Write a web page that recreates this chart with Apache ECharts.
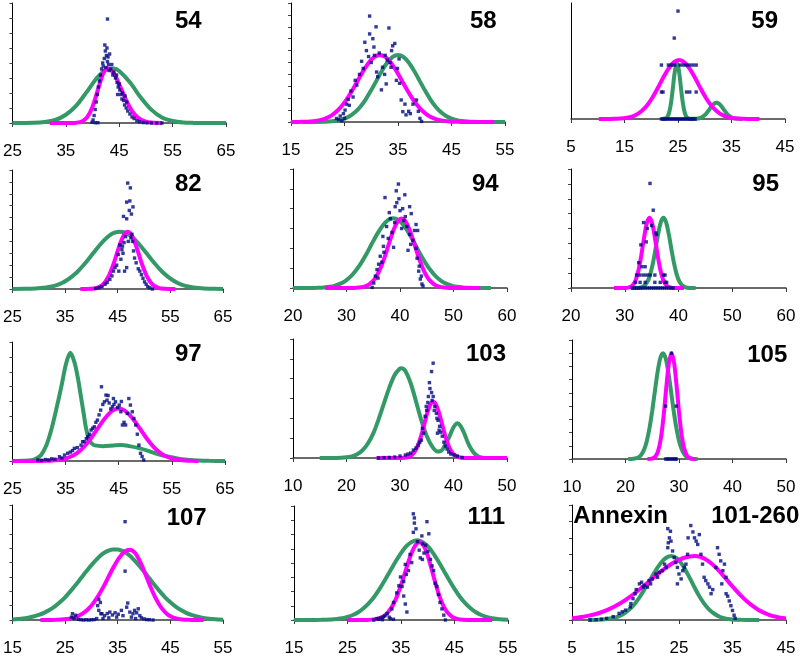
<!DOCTYPE html>
<html><head><meta charset="utf-8">
<script src="https://cdn.jsdelivr.net/npm/echarts@6/dist/echarts.min.js"></script>
<style>html,body{margin:0;padding:0;background:#fff}#c{width:800px;height:657px}</style>
</head><body><div id="c"></div>
<script>
// ---------------- DATA ----------------
const panelTitles = ['54','58','59','82','94','95','97','103','105','107','111','101-260'];
const extraTitle = 'Annexin';
const xMin = [25,15,5,25,20,20,25,10,10,15,15,5];
const xMax = [65,55,45,65,60,60,65,50,50,55,55,45];
const xStep = 10;
const yMax = [8,10,4.3,10,6,8,8,6,9,8,8,7];

const green54 = [[25,0],[29,0.015],[31,0.06],[33,0.2],[35,0.55],[37,1.18],[39,2.11],[41,3.07],[43,3.62],[44,3.64],[45,3.47],[47,2.71],[49,1.72],[51,0.89],[53,0.37],[55,0.13],[57,0.035],[59,0.008],[61,0],[65,0]];
const magenta54 = [[32,0],[34,0],[36,0.003],[37,0.02],[38,0.1],[39,0.39],[40,1.09],[41,2.21],[42,3.31],[42.8,3.65],[44,3.3],[45,2.58],[46,1.76],[47,1.04],[48,0.53],[49,0.24],[50,0.09],[51,0.03],[53,0]];
const dots54 = [[42.8,6.93],[42.2,4.3],[42.4,4.8],[42.6,4.5],[42.8,4.1],[43.0,3.9],[42.5,3.7],[43.2,4.6],[43.4,3.6],[43.6,3.9],[42.0,3.8],[42.7,5.0],[42.3,5.2],[42.9,4.4],[43.1,3.5],[41.9,4.0],[41.7,3.6],[41.5,3.2],[41.3,2.8],[41.1,2.4],[40.9,1.9],[40.7,1.4],[40.5,0.9],[40.3,0.5],[40.1,0.2],[39.9,0.05],[44.0,3.4],[44.3,3.0],[44.5,3.2],[44.6,2.7],[44.8,2.4],[45.0,2.6],[45.1,2.2],[45.3,1.9],[45.5,1.6],[45.6,2.0],[45.8,1.5],[46.0,1.2],[46.1,1.8],[46.3,1.0],[46.4,1.4],[46.6,0.8],[47.0,0.6],[47.4,0.4],[47.8,0.3],[48.3,0.15],[48.8,0.08],[49.5,0.03],[50.2,0.01],[51,0],[52,0],[53,0],[44.7,1.9],[43.8,3.2],[41.0,0.02],[40.5,0.02]];

const green58 = [[17,0],[20,0.007],[21,0.017],[22,0.04],[23,0.08],[24,0.15],[25,0.29],[26,0.51],[27,0.84],[28,1.31],[29,1.93],[30,2.68],[31,3.5],[32,4.31],[33,5.0],[34,5.47],[35,5.63],[36,5.47],[37,5.0],[38,4.31],[39,3.5],[40,2.68],[41,1.93],[42,1.31],[43,0.84],[44,0.51],[45,0.29],[46,0.15],[47,0.08],[48,0.04],[49,0.017],[50,0.007],[55,0]];
const magenta58 = [[15,0],[15.6,0.004],[16.6,0.01],[17.6,0.02],[18.6,0.047],[19.6,0.095],[20.6,0.18],[21.6,0.33],[22.6,0.56],[23.6,0.92],[24.6,1.41],[25.6,2.03],[26.6,2.77],[27.6,3.58],[28.6,4.36],[29.6,5.03],[30.6,5.47],[31.6,5.63],[32.6,5.47],[33.6,5.03],[34.6,4.36],[35.6,3.58],[36.6,2.77],[37.6,2.03],[38.6,1.41],[39.6,0.92],[40.6,0.56],[41.6,0.33],[42.6,0.18],[43.6,0.095],[44.6,0.047],[45.6,0.02],[46.6,0.01],[47.6,0.004],[53,0]];
const dots58 = [[29.7,8.9],[30.9,8.0],[33.3,7.9],[29.7,7.4],[30.3,7.0],[28.8,6.7],[34.4,6.6],[34.0,6.4],[29.1,6.0],[33.8,6.0],[30.5,6.3],[31.5,5.8],[32.6,5.6],[28.2,5.1],[29.5,5.5],[32.1,4.6],[33.0,5.2],[31.2,3.8],[31.9,2.7],[32.5,4.0],[33.5,5.0],[30.0,5.0],[28.5,4.5],[27.8,4.0],[27.3,3.1],[27.0,3.5],[26.6,2.1],[26.2,2.6],[25.7,1.9],[25.9,1.4],[25.1,1.0],[25.4,1.5],[24.8,0.7],[24.2,0.5],[23.9,0.2],[23.5,0.3],[24.5,0.1],[25.0,0.3],[34.7,3.5],[34.9,4.5],[35.2,5.3],[35.3,3.25],[35.6,1.85],[35.9,0.87],[36.3,1.5],[36.5,0.6],[37.0,0.9],[37.3,0.7],[37.8,1.5],[38.45,1.85],[38.8,0.9],[39.1,0.3],[39.4,0.05],[31.0,4.2],[32.8,3.2],[33.7,4.6],[30.6,5.6]];

const green59 = [[22,0],[22.8,0.035],[23.05,0.09],[23.3,0.21],[23.55,0.42],[23.8,0.74],[24.05,1.16],[24.3,1.6],[24.55,1.93],[24.8,2.06],[25.05,1.93],[25.3,1.6],[25.55,1.16],[25.8,0.74],[26.05,0.42],[26.3,0.21],[26.55,0.09],[26.8,0.035],[27.3,0.005],[28.2,0.005],[28.7,0.016],[29.2,0.04],[29.7,0.095],[30.2,0.18],[30.7,0.31],[31.2,0.45],[31.7,0.56],[32.2,0.6],[32.7,0.56],[33.2,0.45],[33.7,0.31],[34.2,0.18],[34.7,0.095],[35.2,0.04],[35.7,0.016],[36.2,0.005],[37,0]];
const magenta59 = [[10.2,0],[12.2,0.002],[13.2,0.006],[14.2,0.016],[15.2,0.037],[16.2,0.08],[17.2,0.16],[18.2,0.3],[19.2,0.5],[20.2,0.79],[21.2,1.14],[22.2,1.52],[23.2,1.86],[24.2,2.1],[25.2,2.19],[26.2,2.1],[27.2,1.86],[28.2,1.52],[29.2,1.14],[30.2,0.79],[31.2,0.5],[32.2,0.3],[33.2,0.16],[34.2,0.08],[35.2,0.037],[36.2,0.016],[37.2,0.006],[38.2,0.002],[40.2,0]];
const dots59 = [[25.0,4],[24.3,3],[21.9,2],[23.2,2],[23.8,2],[24.4,2],[25.4,2],[26.0,2],[26.6,2],[27.2,2],[27.8,2],[28.4,2],[21.9,1],[22.2,1],[26.6,1],[27.2,1],[28.4,1],[21.9,0],[22.2,0],[22.5,0],[22.8,0],[23.1,0],[23.4,0],[23.7,0],[24.0,0],[24.3,0],[24.6,0],[24.9,0],[25.2,0],[25.5,0],[25.8,0],[26.1,0],[26.4,0],[26.7,0],[27.0,0],[27.3,0],[27.6,0],[27.9,0],[28.2,0]];

const green82 = [[25,0.003],[27.4,0.012],[29.4,0.042],[30.4,0.077],[31.4,0.13],[32.4,0.21],[33.4,0.33],[34.4,0.51],[35.4,0.76],[36.4,1.08],[37.4,1.47],[38.4,1.95],[39.4,2.48],[40.4,3.04],[41.4,3.59],[42.4,4.08],[43.4,4.48],[44.4,4.73],[45.4,4.82],[46.4,4.73],[47.4,4.48],[48.4,4.08],[49.4,3.59],[50.4,3.04],[51.4,2.48],[52.4,1.95],[53.4,1.47],[54.4,1.08],[55.4,0.76],[56.4,0.51],[57.4,0.33],[58.4,0.21],[59.4,0.13],[60.4,0.077],[61.4,0.042],[63.4,0.012],[65,0.003]];
const magenta82 = [[37.9,0],[38.9,0.003],[39.9,0.019],[40.9,0.08],[41.9,0.28],[42.4,0.48],[42.9,0.79],[43.4,1.2],[43.9,1.74],[44.4,2.37],[44.9,3.07],[45.4,3.74],[45.9,4.3],[46.4,4.68],[46.9,4.82],[47.4,4.68],[47.9,4.3],[48.4,3.74],[48.9,3.07],[49.4,2.37],[49.9,1.74],[50.4,1.2],[50.9,0.79],[51.4,0.48],[51.9,0.28],[52.9,0.08],[53.9,0.019],[54.9,0.003],[55.9,0]];
const dots82 = [[46.9,8.9],[47.4,8.5],[46.7,7.3],[47.3,7.4],[47.9,6.9],[47.6,6.3],[46.1,6.1],[46.7,5.9],[47.2,6.6],[47.7,4.6],[47.0,4.0],[47.5,4.3],[46.5,4.4],[46.2,3.9],[45.8,3.3],[45.4,3.7],[45.1,2.9],[45.6,2.5],[44.8,2.0],[45.2,1.5],[44.5,1.8],[44.2,1.5],[43.9,1.1],[43.5,0.8],[43.0,0.55],[42.6,0.4],[42.0,0.2],[41.4,0.1],[40.8,0.05],[46.7,1.8],[46.3,1.5],[48.2,2.6],[48.5,2.2],[48.9,1.7],[49.2,1.5],[49.5,1.2],[49.8,0.9],[50.1,0.6],[50.4,0.4],[50.7,0.2],[51.1,0.1],[51.6,0],[46.0,3.0],[45.9,3.6],[48.0,3.2],[47.8,4.0]];

const green94 = [[20,0],[22.75,0.002],[23.75,0.006],[24.75,0.014],[25.75,0.03],[26.75,0.06],[27.75,0.11],[28.75,0.21],[29.75,0.35],[30.75,0.57],[31.75,0.88],[32.75,1.27],[33.75,1.73],[34.75,2.24],[35.75,2.73],[36.75,3.14],[37.75,3.42],[38.75,3.52],[39.75,3.42],[40.75,3.14],[41.75,2.73],[42.75,2.24],[43.75,1.73],[44.75,1.27],[45.75,0.88],[46.75,0.57],[47.75,0.35],[48.75,0.21],[49.75,0.11],[50.75,0.06],[51.75,0.03],[52.75,0.014],[53.75,0.006],[54.75,0.002],[57,0]];
const magenta94 = [[26,0],[29.3,0],[31.3,0.005],[32.3,0.02],[33.3,0.07],[34.3,0.2],[35.3,0.47],[35.8,0.69],[36.3,0.97],[36.8,1.31],[37.3,1.7],[37.8,2.12],[38.3,2.54],[38.8,2.92],[39.3,3.23],[39.8,3.43],[40.3,3.5],[40.8,3.43],[41.3,3.23],[41.8,2.92],[42.3,2.54],[42.8,2.12],[43.3,1.7],[43.8,1.31],[44.3,0.97],[44.8,0.69],[45.3,0.47],[46.3,0.2],[47.3,0.07],[48.3,0.02],[49.3,0.005],[51.3,0],[55,0]];
const dots94 = [[39.7,5.24],[37.2,4.56],[40.9,4.7],[39.3,4.9],[39.4,4.3],[39.1,4.1],[40.0,3.9],[41.8,4.1],[42.1,3.75],[38.2,3.5],[40.7,3.4],[43.0,3.2],[43.3,2.9],[37.5,3.1],[41.8,2.7],[42.4,2.4],[41.5,1.9],[43.0,2.0],[38.8,2.05],[36.9,2.1],[36.3,1.6],[36.6,1.3],[35.7,0.93],[35.4,0.6],[35.1,0.25],[34.8,0.03],[43.5,0.85],[43.8,0.45],[44.1,0.2],[38.5,2.8],[39.0,3.3],[40.3,3.0],[41.0,3.6],[37.8,2.5],[37.0,1.8],[36.0,1.2],[42.7,2.9],[43.2,1.5],[43.6,1.1],[44.3,0.1],[38.0,3.8],[39.8,4.5],[40.5,4.0],[41.3,3.1],[42.0,2.2],[36.8,2.6],[35.9,0.5],[44.0,0.6]];

const green95 = [[31.2,0],[32.2,0.006],[32.7,0.02],[33.2,0.063],[33.7,0.17],[34.2,0.41],[34.7,0.87],[35.2,1.6],[35.7,2.57],[36.2,3.6],[36.7,4.41],[37.2,4.72],[37.7,4.41],[38.2,3.6],[38.7,2.57],[39.2,1.6],[39.7,0.87],[40.2,0.41],[40.7,0.17],[41.2,0.063],[41.7,0.02],[42.2,0.006],[43.2,0]];
const magenta95 = [[28,0],[29.1,0],[30.1,0.006],[30.6,0.024],[31.1,0.082],[31.6,0.24],[32.1,0.6],[32.6,1.26],[33.1,2.24],[33.6,3.39],[34.1,4.35],[34.6,4.72],[35.1,4.35],[35.6,3.39],[36.1,2.24],[36.6,1.26],[37.1,0.6],[37.6,0.24],[38.1,0.082],[38.6,0.024],[39.1,0.006],[40.1,0],[41,0]];
const dots95 = [[34.7,7.03],[35.3,5.23],[33.5,4.4],[34.2,4.0],[35.8,3.7],[34.0,3.1],[33.0,2.9],[35.0,4.2],[35.9,3.6],[32.6,1.7],[33.2,1.43],[33.8,1.43],[32.2,0.87],[32.85,0.87],[33.5,0.87],[34.1,0.87],[34.7,0.87],[35.6,0.87],[37.2,0.87],[37.5,0.87],[32.0,0.38],[32.85,0.38],[33.8,0.38],[35.6,0.38],[36.6,0.38],[37.5,0.38],[37.8,0.38],[31.4,0],[31.8,0],[32.2,0],[32.6,0],[33.0,0],[33.4,0],[33.8,0],[34.2,0],[34.6,0],[35.0,0],[35.4,0],[35.8,0],[36.2,0],[36.6,0],[37.0,0],[37.4,0],[37.8,0],[38.2,0],[38.6,0],[39.0,0]];

const green97 = [[25,0],[27,0.01],[28.6,0.05],[29.5,0.17],[30.4,0.4],[31.4,1.07],[32.3,2.08],[33.2,3.4],[34.2,5.0],[35.1,6.55],[35.9,7.27],[36.7,6.6],[37.3,5.6],[37.9,4.3],[38.4,3.2],[38.8,2.3],[39.45,1.4],[40.0,1.15],[40.5,1.05],[42,1.0],[44,1.05],[45.5,1.08],[47,1.0],[49,0.85],[50.4,0.7],[52,0.5],[54,0.32],[56,0.17],[58,0.08],[60,0.03],[62,0.01],[65,0]];
const magenta97 = [[25,0],[30,0.004],[31,0.009],[32,0.02],[33,0.044],[34,0.088],[35,0.17],[36,0.3],[37,0.5],[38,0.79],[39,1.18],[40,1.65],[41,2.17],[42,2.68],[43,3.12],[44,3.42],[45,3.53],[46,3.42],[47,3.12],[48,2.68],[49,2.17],[50,1.65],[51,1.18],[52,0.79],[53,0.5],[54,0.3],[55,0.17],[56,0.088],[57,0.044],[58,0.02],[59,0.009],[60,0.004]];
const dots97 = [[29.8,0.07],[30.5,0.05],[31.2,0.1],[31.8,0.07],[32.4,0.15],[33.0,0.12],[33.85,0.29],[34.3,0.2],[34.8,0.4],[35.4,0.52],[35.9,0.6],[36.3,0.7],[36.65,0.85],[37.2,0.9],[37.9,1.07],[38.2,1.3],[38.5,1.3],[38.9,1.5],[39.15,1.63],[39.5,1.8],[39.8,2.08],[40.1,2.2],[40.4,2.3],[40.7,2.6],[41.0,2.75],[41.3,3.1],[41.6,3.42],[41.75,4.99],[42.0,3.8],[42.3,3.98],[42.6,4.43],[42.8,4.09],[43.2,3.9],[43.5,3.5],[43.8,3.65],[44.1,3.8],[44.4,3.98],[44.8,3.6],[45.1,3.76],[45.4,3.31],[45.7,2.42],[46.0,2.6],[46.3,2.42],[46.6,3.2],[46.9,4.2],[47.2,3.76],[47.55,3.31],[47.85,2.86],[48.2,2.42],[48.5,1.8],[48.8,1.07],[49.1,0.52],[49.4,0.3],[49.7,0.07],[43.0,4.4],[44.0,4.2],[45.5,4.0]];

const green103 = [[15,0],[18,0.004],[20,0.035],[21,0.085],[22,0.19],[23,0.39],[24,0.73],[25,1.24],[26,1.95],[27,2.75],[28,3.55],[29,4.19],[30,4.51],[30.3,4.53],[31,4.39],[32,3.77],[33,2.85],[34,1.89],[35,1.11],[36,0.59],[37,0.33],[37.5,0.34],[38,0.45],[38.5,0.7],[39,0.95],[39.5,1.25],[40,1.55],[40.7,1.75],[41.3,1.62],[42,1.25],[42.5,0.9],[43,0.6],[43.5,0.37],[44,0.2],[44.5,0.1],[45,0.04],[46,0.005],[47,0]];
const magenta103 = [[25.6,0],[29.2,0],[30.2,0.004],[31.2,0.029],[31.7,0.068],[32.2,0.15],[32.7,0.3],[33.2,0.54],[33.7,0.9],[34.2,1.36],[34.7,1.88],[35.2,2.36],[35.7,2.71],[36.2,2.84],[36.7,2.71],[37.2,2.36],[37.7,1.88],[38.2,1.36],[38.7,0.9],[39.2,0.54],[39.7,0.3],[40.2,0.15],[40.7,0.068],[41.2,0.029],[42.2,0.004],[43.2,0],[50,0]];
const dots103 = [[36.2,4.78],[35.5,3.8],[35.9,3.3],[35.9,4.36],[36.2,3.1],[36.5,2.6],[36.8,2.25],[37.1,1.9],[37.4,1.6],[37.0,1.25],[37.9,1.1],[38.5,0.6],[39.1,0.3],[40.1,0.15],[40.7,0.1],[41.6,0.02],[35.0,2.4],[34.7,2.1],[35.3,3.1],[34.4,1.25],[34.0,0.9],[33.4,0.65],[32.5,0.4],[33.0,0.5],[35.6,3.5],[36.0,2.9],[36.4,2.4],[36.9,2.0],[37.3,1.4],[37.6,1.3],[38.2,0.8],[38.8,0.45],[39.5,0.2],[34.2,1.5],[34.9,2.6],[32.0,0.25],[31.0,0.15],[30.0,0.1],[29.0,0.05],[28.0,0.03],[27.0,0.02],[26.0,0],[31.5,0.2],[33.7,0.8],[35.2,2.8]];

const green105 = [[20.5,0],[21.5,0.02],[22,0.06],[22.5,0.15],[23,0.35],[23.5,0.73],[24,1.38],[24.5,2.37],[25,3.66],[25.5,5.15],[26,6.58],[26.5,7.62],[27,8],[27.5,7.62],[28,6.58],[28.5,5.15],[29,3.66],[29.5,2.37],[30,1.38],[30.5,0.73],[31,0.35],[31.5,0.15],[32,0.06],[32.5,0.02],[33.5,0]];
const magenta105 = [[24.1,0],[24.6,0.01],[25.1,0.05],[25.6,0.19],[26.1,0.61],[26.6,1.53],[27.1,3.16],[27.6,5.3],[28.1,7.22],[28.6,8],[29.1,7.22],[29.6,5.3],[30.1,3.16],[30.6,1.53],[31.1,0.61],[31.6,0.19],[32.1,0.05],[32.6,0.01],[33.1,0]];
const dots105 = [[28.6,8],[27.5,4],[29.5,4],[27.5,0],[27.8,0],[28.1,0],[28.4,0],[28.7,0],[29.0,0],[29.3,0],[29.5,0]];

const green107 = [[15,0.04],[16,0.066],[17,0.1],[18,0.16],[19,0.24],[20,0.35],[21,0.5],[22,0.69],[23,0.93],[24,1.23],[25,1.58],[26,1.99],[27,2.43],[28,2.9],[29,3.37],[30,3.82],[31,4.22],[32,4.56],[33,4.79],[34,4.91],[35,4.91],[36,4.79],[37,4.56],[38,4.22],[39,3.82],[40,3.37],[41,2.9],[42,2.43],[43,1.99],[44,1.58],[45,1.23],[46,0.93],[47,0.69],[48,0.5],[49,0.35],[50,0.24],[51,0.16],[52,0.1],[53,0.066],[54,0.04],[55,0.025]];
const magenta107 = [[20.3,0],[21.3,0.002],[23.3,0.015],[24.3,0.032],[25.3,0.067],[26.3,0.13],[27.3,0.25],[28.3,0.44],[29.3,0.73],[30.3,1.14],[31.3,1.68],[32.3,2.32],[33.3,3.04],[34.3,3.74],[35.3,4.34],[36.3,4.75],[37.3,4.89],[38.3,4.66],[39.3,4.02],[40.3,3.15],[41.3,2.24],[42.3,1.45],[43.3,0.84],[44.3,0.44],[45.3,0.21],[46.3,0.093],[47.3,0.037],[48.3,0.013],[49.3,0.004],[51.3,0]];
const dots107 = [[36.4,6.84],[36.4,3.4],[31.4,1.44],[31.7,1.22],[31.2,1.0],[31.4,0.67],[31.8,0.44],[26.4,0.44],[26.2,0.2],[27.0,0.33],[26.7,0.1],[27.5,0.05],[28.0,0.02],[28.5,0],[29.0,0.02],[29.5,0],[30.0,0.02],[30.5,0.03],[31.0,0.1],[32.0,0.44],[32.5,0.3],[33.0,0.45],[33.5,0.55],[34.0,0.35],[34.5,0.5],[35.1,0.4],[35.7,0.67],[36.9,1.18],[36.7,0.89],[37.3,0.55],[37.9,0.44],[38.2,0.67],[38.9,0.78],[38.6,0.5],[39.2,0.3],[39.5,0.15],[40.0,0.08],[40.5,0.03],[41.0,0.02],[41.7,0],[36.0,0.3],[34.8,0.2],[33.3,0.15],[32.2,0.1],[37.6,0.2],[38.4,0.1]];

const green111 = [[15,0],[18,0.003],[20,0.011],[21,0.022],[22,0.04],[23,0.075],[24,0.13],[25,0.22],[26,0.35],[27,0.54],[28,0.82],[29,1.18],[30,1.63],[31,2.18],[32,2.8],[33,3.46],[34,4.11],[35,4.7],[36,5.18],[37,5.48],[38,5.59],[39,5.48],[40,5.18],[41,4.7],[42,4.11],[43,3.46],[44,2.8],[45,2.18],[46,1.63],[47,1.18],[48,0.82],[49,0.54],[50,0.35],[51,0.22],[52,0.13],[53,0.075],[54,0.04],[55,0.022]];
const magenta111 = [[25,0],[26.5,0],[28.5,0.007],[29.5,0.026],[30.5,0.079],[31.5,0.21],[32.5,0.51],[33.5,1.05],[34,1.44],[34.5,1.91],[35,2.44],[35.5,3.02],[36,3.63],[36.5,4.21],[37,4.72],[37.5,5.13],[38,5.39],[38.5,5.48],[39,5.36],[39.5,5.02],[40,4.51],[40.5,3.87],[41,3.18],[41.5,2.51],[42,1.89],[42.5,1.36],[43,0.94],[43.5,0.62],[44.5,0.24],[45.5,0.078],[46.5,0.021],[47.5,0.005],[48.5,0],[52,0]];
const dots111 = [[37.3,7.45],[37.5,7.16],[39.85,6.9],[37.5,6.8],[37.8,6.4],[37.3,6.15],[40.2,6.05],[38.1,5.5],[39.0,5.35],[39.6,5.25],[38.4,4.9],[38.6,4.36],[39.0,4.25],[36.7,4.6],[37.0,4.03],[36.4,3.47],[35.8,3.9],[34.9,3.02],[35.2,2.35],[35.5,1.68],[35.8,1.12],[36.1,0.56],[34.2,1.9],[33.6,1.23],[33.3,0.78],[32.4,0.45],[31.7,0.22],[30.5,0.1],[29.9,0],[30.8,0.05],[31.2,0.15],[32.0,0.3],[32.8,0.2],[33.0,0.1],[33.6,0.05],[31.5,0.02],[40.5,4.25],[41.1,3.47],[41.4,2.57],[41.7,2.35],[42.0,1.79],[42.3,1.23],[42.65,0.78],[43.0,0.34],[43.3,0],[39.3,4.7],[40.0,4.8],[36.0,3.2],[35.5,2.7],[34.6,2.4],[38.9,5.9],[40.8,3.8]];

const greenAnnexin = [[8,0],[9.6,0.013],[10.6,0.03],[11.6,0.06],[12.6,0.12],[13.6,0.21],[14.6,0.37],[15.6,0.61],[16.6,0.93],[17.6,1.37],[18.6,1.9],[19.6,2.45],[20.6,3.0],[21.6,3.47],[22.6,3.79],[23.6,3.9],[24.6,3.76],[25.6,3.37],[26.6,2.81],[27.6,2.18],[28.6,1.56],[29.6,1.04],[30.6,0.65],[31.6,0.38],[32.6,0.2],[33.6,0.1],[34.6,0.047],[35.6,0.02],[36.6,0.008],[38.6,0.002],[40,0]];
const magentaAnnexin = [[5,0.1],[5.95,0.14],[7.95,0.25],[9.95,0.41],[11.95,0.66],[13.95,1.0],[15.95,1.44],[17.95,1.95],[19.95,2.5],[21.95,3.04],[23.95,3.49],[25.95,3.79],[27.95,3.9],[28.95,3.85],[29.95,3.7],[30.95,3.47],[31.95,3.17],[32.95,2.82],[33.95,2.44],[34.95,2.06],[35.95,1.7],[36.95,1.36],[37.95,1.06],[38.95,0.81],[39.95,0.59],[40.95,0.43],[41.95,0.3],[42.95,0.21],[43.95,0.14],[45,0.09]];
const dotsAnnexin = [[8.4,0],[9.5,0.02],[10.5,0.05],[11.47,0.1],[12.7,0.2],[13.8,0.4],[15.0,0.6],[15.9,0.8],[16.4,1.3],[17.0,1.85],[17.6,2.2],[18.3,2.0],[18.5,2.1],[19.1,2.0],[19.7,2.2],[20.0,2.5],[20.7,2.8],[21.3,2.9],[21.9,3.0],[22.3,3.4],[22.9,4.4],[23.2,5.0],[22.9,5.56],[23.4,5.4],[23.5,4.8],[23.8,4.2],[24.1,3.8],[24.7,3.2],[25.0,2.8],[25.4,2.5],[24.7,2.2],[25.7,3.0],[26.3,3.4],[26.6,4.0],[26.7,5.0],[27.2,5.75],[27.6,5.36],[27.9,5.0],[28.5,4.6],[28.8,5.2],[29.1,4.0],[29.4,3.4],[29.7,2.6],[30.4,2.2],[30.7,2.0],[31.3,1.85],[31.0,1.6],[31.9,3.2],[32.2,4.4],[32.5,4.0],[32.8,3.6],[33.2,3.0],[33.5,3.4],[33.8,2.6],[33.8,1.6],[34.1,1.45],[34.4,1.16],[34.7,0.87],[35.0,0.58],[35.3,0.29],[35.5,0.1],[14.4,0.5],[16.0,1.0],[16.8,1.6],[18.0,2.3],[19.4,2.4],[21.0,2.6],[22.6,3.2],[23.0,4.7],[24.4,3.5],[26.0,3.2],[28.2,4.8],[30.0,2.4],[33.0,2.2]];

const greenSets = [green54,green58,green59,green82,green94,green95,green97,green103,green105,green107,green111,greenAnnexin];
const magentaSets = [magenta54,magenta58,magenta59,magenta82,magenta94,magenta95,magenta97,magenta103,magenta105,magenta107,magenta111,magentaAnnexin];
const dotSets = [dots54,dots58,dots59,dots82,dots94,dots95,dots97,dots103,dots105,dots107,dots111,dotsAnnexin];

// ---------------- LAYOUT / STYLE ----------------
const boxes = [[12,3,214,120],[291,3,214,119],[571,3,214,116],[9,170,214,119],[293,169,214,119],[571,169,215,119],[11,342,214,119],[293,339,214,119],[572,340,214,119],[9,505,214,120],[294,506,214,119],[572,505,214,120]];
const titleAt = [[201.7,21],[496.7,21],[778,21],[201.7,184],[498.7,184],[779,184],[201.7,354],[506,354],[787.3,355],[206.7,518],[505,517],[799.3,516]];
const FONT = '"Liberation Sans", Arial, Helvetica, sans-serif';
const GREEN = '#339966', MAGENTA = '#ff00ff', NAVY = '#000a80';

const grid = [], xAxis = [], yAxis = [], series = [], graphic = [];
for (let i = 0; i < 12; i++) {
  const b = boxes[i];
  grid.push({left: b[0], top: b[1], width: b[2], height: b[3], containLabel: false});
  xAxis.push({type: 'value', gridIndex: i, min: xMin[i], max: xMax[i], interval: xStep,
    axisLine: {show: true, onZero: false, lineStyle: {color: '#3a3a3a', width: 1.5}},
    axisTick: {show: true, length: 4, lineStyle: {color: '#3a3a3a', width: 1}},
    axisLabel: {show: true, margin: 20, fontSize: 17, color: '#000', fontFamily: FONT, showMinLabel: true, showMaxLabel: true},
    splitLine: {show: false}});
  yAxis.push({type: 'value', gridIndex: i, min: 0, max: yMax[i], interval: 1,
    axisLine: {show: true, onZero: false, lineStyle: {color: '#000', width: 1}},
    axisTick: {show: i !== 2, length: 3, lineStyle: {color: '#444', width: 1}},
    axisLabel: {show: false}, splitLine: {show: false}});
  series.push({type: 'line', xAxisIndex: i, yAxisIndex: i, data: greenSets[i], showSymbol: false, smooth: 0.3,
    lineStyle: {color: GREEN, width: 4}, z: 2, silent: true});
  series.push({type: 'line', xAxisIndex: i, yAxisIndex: i, data: magentaSets[i], showSymbol: false, smooth: 0.3,
    lineStyle: {color: MAGENTA, width: 4}, z: 3, silent: true});
  series.push({type: 'scatter', xAxisIndex: i, yAxisIndex: i, data: dotSets[i], symbol: 'rect', symbolSize: 3.4,
    itemStyle: {color: NAVY}, z: 4, silent: true});
  graphic.push({type: 'text', x: titleAt[i][0], y: titleAt[i][1], z: 10,
    style: {text: panelTitles[i], font: 'bold 24px ' + FONT, fill: '#000', align: 'right', verticalAlign: 'middle', textAlign: 'right', textVerticalAlign: 'middle'}});
}
graphic.push({type: 'text', x: 573.3, y: 516, z: 10,
  style: {text: extraTitle, font: 'bold 24px ' + FONT, fill: '#000', align: 'left', verticalAlign: 'middle', textAlign: 'left', textVerticalAlign: 'middle'}});

const chart = echarts.init(document.getElementById('c'), null, {renderer: 'canvas'});
chart.setOption({animation: false, backgroundColor: '#fff', grid, xAxis, yAxis, series, graphic});
</script>
</body></html>
